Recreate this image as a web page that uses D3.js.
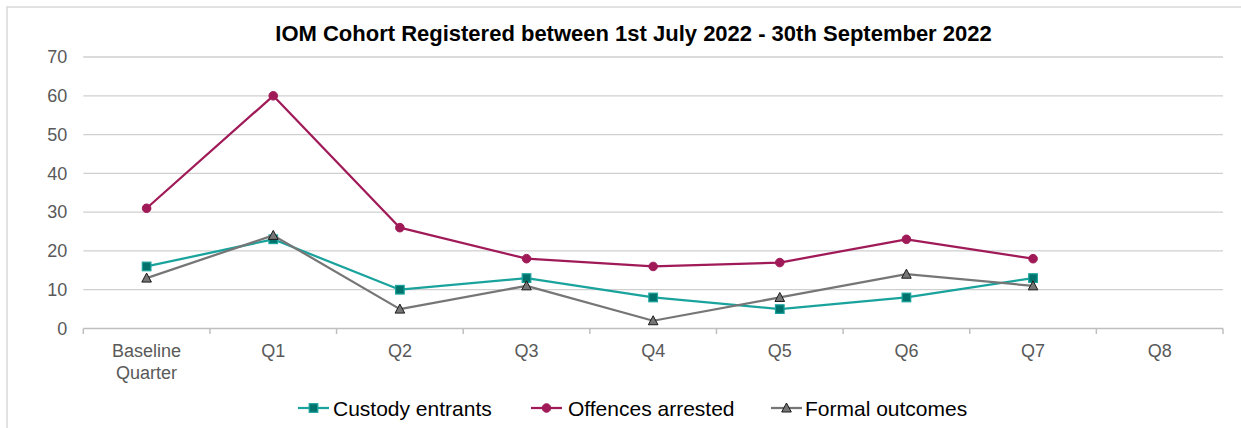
<!DOCTYPE html>
<html><head><meta charset="utf-8">
<script src="https://cdn.jsdelivr.net/npm/d3@7"></script>
<style>body{margin:0;background:#fff;}svg{display:block;font-family:"Liberation Sans",Arial,sans-serif;}</style>
</head><body><svg id="c" width="1241" height="428"></svg>
<script>
const categories = ["Baseline Quarter","Q1","Q2","Q3","Q4","Q5","Q6","Q7","Q8"];
const custodyEntrants = [16,23,10,13,8,5,8,13];
const offencesArrested = [31,60,26,18,16,17,23,18];
const formalOutcomes = [13,24,5,11,2,8,14,11];
const yTicks = [0,10,20,30,40,50,60,70];
const titleText = "IOM Cohort Registered between 1st July 2022 - 30th September 2022";

const series = [
  {name:"Custody entrants", values:custodyEntrants, color:"#1aa39d", fill:"#00726c", stroke:"#1aa39d", shape:"square"},
  {name:"Offences arrested", values:offencesArrested, color:"#a01a58", fill:"#a01a58", stroke:"#a01a58", shape:"circle"},
  {name:"Formal outcomes", values:formalOutcomes, color:"#767676", fill:"#767676", stroke:"#1a1a1a", shape:"triangle"}
];

const svg = d3.select("#c");
svg.append("rect").attr("x",7).attr("y",7).attr("width",1300).attr("height",500)
  .attr("fill","#fff").attr("stroke","#d9d9d9").attr("stroke-width",1.5);

const x = d3.scaleBand().domain(categories).range([83.3,1223]);
const y = d3.scaleLinear().domain([0,70]).range([328.5,57]);

svg.append("text").attr("x",633.5).attr("y",41).attr("text-anchor","middle")
  .attr("font-size",22).attr("font-weight","bold").attr("fill","#000").text(titleText);

// gridlines
svg.append("g").selectAll("line").data(yTicks.filter(d=>d>0)).join("line")
  .attr("x1",83.3).attr("x2",1223).attr("y1",d=>y(d)).attr("y2",d=>y(d))
  .attr("stroke","#cfcfcf").attr("stroke-width",1.3);

// y axis labels
const yAxis = d3.axisLeft(y).tickValues(yTicks).tickSize(0).tickPadding(16);
const gy = svg.append("g").attr("transform","translate(83.3,0)").call(yAxis);
gy.select(".domain").remove();
gy.selectAll("text").attr("font-size",18).attr("fill","#595959").attr("font-family","Liberation Sans, Arial, sans-serif");

// x axis
const bounds = categories.map(c=>x(c)).concat([x.range()[1]]);
const gx = svg.append("g");
gx.append("line").attr("x1",83.3).attr("x2",1223).attr("y1",y(0)).attr("y2",y(0)).attr("stroke","#bfbfbf").attr("stroke-width",1.5);
gx.selectAll("line.tk").data(bounds).join("line").attr("class","tk")
  .attr("x1",d=>d).attr("x2",d=>d).attr("y1",y(0)).attr("y2",y(0)+5.5).attr("stroke","#bfbfbf").attr("stroke-width",1.5);
gx.selectAll("text").data(categories).join("text")
  .attr("x",d=>x(d)+x.bandwidth()/2).attr("y",357).attr("text-anchor","middle")
  .attr("font-size",18).attr("fill","#595959")
  .each(function(d){
    const words = d==="Baseline Quarter" ? ["Baseline","Quarter"] : [d];
    const t = d3.select(this);
    words.forEach((w,i)=>t.append("tspan").attr("x",x(d)+x.bandwidth()/2).attr("dy",i?21.5:0).text(w));
  });

const cx = (i)=>x(categories[i])+x.bandwidth()/2;
const line = d3.line().x((d,i)=>cx(i)).y(d=>y(d));

function marker(g, shape, px, py, s){
  if(shape==="square") g.append("rect").attr("x",px-4.3).attr("y",py-4.3).attr("width",8.6).attr("height",8.6)
    .attr("fill",s.fill).attr("stroke",s.stroke).attr("stroke-width",1.2);
  else if(shape==="circle") g.append("circle").attr("cx",px).attr("cy",py).attr("r",4.3).attr("fill",s.fill).attr("stroke",s.stroke);
  else g.append("path").attr("d",`M${px},${py-5}L${px+4.8},${py+4}L${px-4.8},${py+4}Z`)
    .attr("fill",s.fill).attr("stroke",s.stroke).attr("stroke-width",1);
}

series.forEach(s=>{
  const g = svg.append("g");
  g.append("path").datum(s.values).attr("d",line).attr("fill","none").attr("stroke",s.color).attr("stroke-width",2.25).attr("stroke-linejoin","round");
  s.values.forEach((v,i)=>marker(g,s.shape,cx(i),y(v),s));
});

// legend
const legendPos = [{lx:298,tx:333},{lx:531,tx:568},{lx:771,tx:805}];
series.forEach((s,i)=>{
  const p = legendPos[i];
  const g = svg.append("g");
  g.append("line").attr("x1",p.lx).attr("x2",p.lx+31).attr("y1",408).attr("y2",408).attr("stroke",s.color).attr("stroke-width",2.25);
  marker(g,s.shape,p.lx+15.5,408,s);
  g.append("text").attr("x",p.tx).attr("y",416).attr("font-size",21).attr("fill","#000").text(s.name);
});
</script></body></html>
